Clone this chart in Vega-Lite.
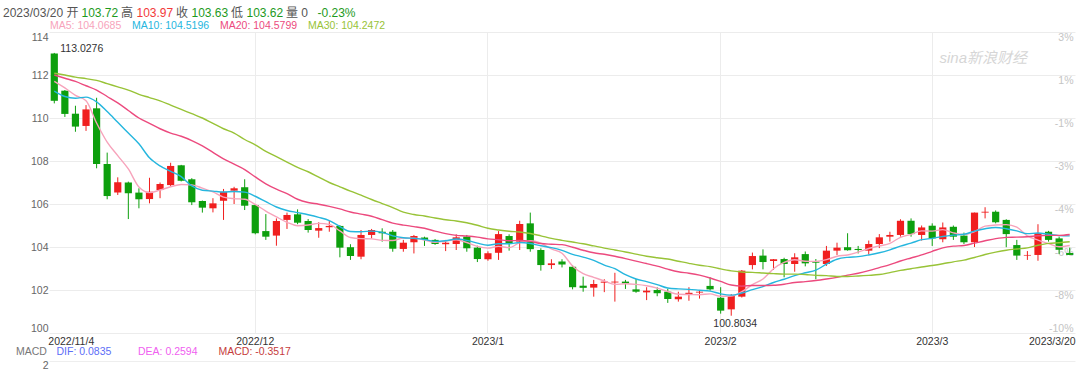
{
"$schema": "https://vega.github.io/schema/vega-lite/v6.json",
"width": 1026, "height": 301,
"autosize": {"type": "none"},
"padding": {"left": 49, "top": 32, "right": 5, "bottom": 41},
"background": "white",
"config": {"view": {"stroke": null}, "font": "Liberation Sans, 'Noto Sans CJK SC', sans-serif"},
"title": {"text": "sina新浪财经", "orient": "top", "anchor": "end", "frame": "group", "offset": 0, "dx": -48, "dy": 59, "fontSize": 15, "fontStyle": "italic", "fontWeight": "normal", "color": "#d6d6d6"},
"datasets": {
"k": [
{"d":"2022-11-04","o":113.0,"h":113.0276,"l":110.68,"c":110.8,"MA5":111.7,"MA10":111.25,"MA20":112.0,"MA30":112.08},
{"d":"2022-11-07","o":111.27,"h":111.3,"l":110.05,"c":110.19,"MA5":111.4,"MA10":111.0,"MA20":111.85,"MA30":112.0},
{"d":"2022-11-08","o":110.2,"h":110.57,"l":109.36,"c":109.6,"MA5":111.05,"MA10":110.92,"MA20":111.7,"MA30":111.9},
{"d":"2022-11-09","o":109.63,"h":110.6,"l":109.4,"c":110.4,"MA5":110.8,"MA10":110.97,"MA20":111.5,"MA30":111.83},
{"d":"2022-11-10","o":110.45,"h":110.94,"l":107.66,"c":107.86,"MA5":109.77,"MA10":110.75,"MA20":111.3,"MA30":111.75},
{"d":"2022-11-11","o":107.86,"h":108.39,"l":106.22,"c":106.37,"MA5":108.88,"MA10":110.3,"MA20":111.0,"MA30":111.6},
{"d":"2022-11-14","o":106.53,"h":107.24,"l":106.42,"c":107.01,"MA5":108.25,"MA10":109.8,"MA20":110.7,"MA30":111.45},
{"d":"2022-11-15","o":107.0,"h":107.04,"l":105.3,"c":106.5,"MA5":107.63,"MA10":109.3,"MA20":110.35,"MA30":111.3},
{"d":"2022-11-16","o":106.53,"h":106.73,"l":105.8,"c":106.22,"MA5":106.79,"MA10":108.8,"MA20":110.0,"MA30":111.1},
{"d":"2022-11-17","o":106.23,"h":107.22,"l":106.03,"c":106.57,"MA5":106.53,"MA10":108.15,"MA20":109.75,"MA30":110.95},
{"d":"2022-11-18","o":106.65,"h":107.0,"l":106.27,"c":106.93,"MA5":106.65,"MA10":107.77,"MA20":109.5,"MA30":110.8},
{"d":"2022-11-21","o":106.88,"h":107.92,"l":106.8,"c":107.77,"MA5":106.8,"MA10":107.52,"MA20":109.3,"MA30":110.6},
{"d":"2022-11-22","o":107.8,"h":107.82,"l":107.05,"c":107.08,"MA5":106.91,"MA10":107.27,"MA20":109.15,"MA30":110.4},
{"d":"2022-11-23","o":107.15,"h":107.2,"l":105.95,"c":106.08,"MA5":106.89,"MA10":106.84,"MA20":108.95,"MA30":110.2},
{"d":"2022-11-24","o":106.14,"h":106.16,"l":105.6,"c":105.83,"MA5":106.74,"MA10":106.64,"MA20":108.7,"MA30":110.0},
{"d":"2022-11-25","o":105.8,"h":106.27,"l":105.61,"c":106.03,"MA5":106.56,"MA10":106.6,"MA20":108.4,"MA30":109.75},
{"d":"2022-11-28","o":106.15,"h":106.7,"l":105.26,"c":106.57,"MA5":106.32,"MA10":106.56,"MA20":108.1,"MA30":109.5},
{"d":"2022-11-29","o":106.62,"h":106.8,"l":106.0,"c":106.73,"MA5":106.25,"MA10":106.58,"MA20":107.85,"MA30":109.3},
{"d":"2022-11-30","o":106.78,"h":107.15,"l":105.72,"c":105.92,"MA5":106.22,"MA10":106.55,"MA20":107.6,"MA30":109.0},
{"d":"2022-12-01","o":105.95,"h":106.0,"l":104.59,"c":104.64,"MA5":105.98,"MA10":106.36,"MA20":107.26,"MA30":108.75},
{"d":"2022-12-02","o":104.74,"h":105.53,"l":104.33,"c":104.48,"MA5":105.67,"MA10":106.11,"MA20":106.94,"MA30":108.45},
{"d":"2022-12-05","o":104.53,"h":105.33,"l":104.06,"c":105.21,"MA5":105.4,"MA10":105.86,"MA20":106.69,"MA30":108.2},
{"d":"2022-12-06","o":105.26,"h":105.6,"l":104.84,"c":105.49,"MA5":105.15,"MA10":105.7,"MA20":106.48,"MA30":107.95},
{"d":"2022-12-07","o":105.52,"h":105.75,"l":105.06,"c":105.13,"MA5":104.99,"MA10":105.6,"MA20":106.22,"MA30":107.7},
{"d":"2022-12-08","o":105.21,"h":105.3,"l":104.67,"c":104.79,"MA5":105.02,"MA10":105.5,"MA20":106.07,"MA30":107.5},
{"d":"2022-12-09","o":104.76,"h":105.15,"l":104.43,"c":104.88,"MA5":105.1,"MA10":105.38,"MA20":105.99,"MA30":107.25},
{"d":"2022-12-12","o":104.92,"h":105.21,"l":104.71,"c":104.98,"MA5":105.05,"MA10":105.23,"MA20":105.89,"MA30":107.0},
{"d":"2022-12-13","o":104.98,"h":105.02,"l":103.52,"c":103.97,"MA5":104.75,"MA10":104.95,"MA20":105.77,"MA30":106.8},
{"d":"2022-12-14","o":103.99,"h":104.13,"l":103.4,"c":103.58,"MA5":104.44,"MA10":104.72,"MA20":105.63,"MA30":106.6},
{"d":"2022-12-15","o":103.55,"h":104.79,"l":103.43,"c":104.56,"MA5":104.39,"MA10":104.71,"MA20":105.53,"MA30":106.41},
{"d":"2022-12-16","o":104.56,"h":104.84,"l":104.4,"c":104.79,"MA5":104.38,"MA10":104.74,"MA20":105.43,"MA30":106.21},
{"d":"2022-12-19","o":104.71,"h":104.87,"l":104.25,"c":104.64,"MA5":104.31,"MA10":104.68,"MA20":105.27,"MA30":106.02},
{"d":"2022-12-20","o":104.71,"h":104.79,"l":103.78,"c":103.92,"MA5":104.3,"MA10":104.52,"MA20":105.11,"MA30":105.83},
{"d":"2022-12-21","o":103.91,"h":104.33,"l":103.78,"c":104.2,"MA5":104.42,"MA10":104.43,"MA20":105.02,"MA30":105.62},
{"d":"2022-12-22","o":104.22,"h":104.56,"l":103.7,"c":104.51,"MA5":104.41,"MA10":104.4,"MA20":104.95,"MA30":105.51},
{"d":"2022-12-23","o":104.44,"h":104.48,"l":104.05,"c":104.33,"MA5":104.32,"MA10":104.35,"MA20":104.87,"MA30":105.44},
{"d":"2022-12-26","o":104.33,"h":104.37,"l":104.1,"c":104.14,"MA5":104.22,"MA10":104.26,"MA20":104.74,"MA30":105.35},
{"d":"2022-12-27","o":104.13,"h":104.33,"l":103.81,"c":104.2,"MA5":104.28,"MA10":104.29,"MA20":104.62,"MA30":105.27},
{"d":"2022-12-28","o":104.14,"h":104.59,"l":103.86,"c":104.45,"MA5":104.33,"MA10":104.37,"MA20":104.54,"MA30":105.21},
{"d":"2022-12-29","o":104.48,"h":104.56,"l":103.78,"c":103.94,"MA5":104.21,"MA10":104.31,"MA20":104.51,"MA30":105.13},
{"d":"2022-12-30","o":103.97,"h":104.06,"l":103.3,"c":103.44,"MA5":104.03,"MA10":104.18,"MA20":104.46,"MA30":105.01},
{"d":"2023-01-02","o":103.43,"h":103.8,"l":103.36,"c":103.71,"MA5":103.95,"MA10":104.08,"MA20":104.38,"MA30":104.87},
{"d":"2023-01-03","o":103.73,"h":104.74,"l":103.4,"c":104.6,"MA5":104.03,"MA10":104.15,"MA20":104.34,"MA30":104.79},
{"d":"2023-01-04","o":104.51,"h":104.59,"l":103.83,"c":104.17,"MA5":103.97,"MA10":104.15,"MA20":104.29,"MA30":104.73},
{"d":"2023-01-05","o":104.25,"h":105.22,"l":103.86,"c":105.07,"MA5":104.2,"MA10":104.21,"MA20":104.3,"MA30":104.7},
{"d":"2023-01-06","o":105.1,"h":105.6,"l":103.78,"c":103.9,"MA5":104.29,"MA10":104.16,"MA20":104.26,"MA30":104.63},
{"d":"2023-01-09","o":103.86,"h":103.94,"l":102.9,"c":103.16,"MA5":104.18,"MA10":104.06,"MA20":104.16,"MA30":104.52},
{"d":"2023-01-10","o":103.16,"h":103.43,"l":102.98,"c":103.24,"MA5":103.91,"MA10":103.97,"MA20":104.13,"MA30":104.4},
{"d":"2023-01-11","o":103.32,"h":103.43,"l":103.05,"c":103.19,"MA5":103.71,"MA10":103.84,"MA20":104.11,"MA30":104.31},
{"d":"2023-01-12","o":103.08,"h":103.16,"l":102.03,"c":102.13,"MA5":103.12,"MA10":103.66,"MA20":103.99,"MA30":104.23},
{"d":"2023-01-13","o":102.2,"h":102.62,"l":101.92,"c":102.1,"MA5":102.76,"MA10":103.53,"MA20":103.85,"MA30":104.15},
{"d":"2023-01-16","o":102.11,"h":102.47,"l":101.69,"c":102.28,"MA5":102.59,"MA10":103.38,"MA20":103.73,"MA30":104.05},
{"d":"2023-01-17","o":102.34,"h":102.5,"l":101.9,"c":102.39,"MA5":102.42,"MA10":103.16,"MA20":103.66,"MA30":103.95},
{"d":"2023-01-18","o":102.35,"h":102.8,"l":101.46,"c":102.39,"MA5":102.26,"MA10":102.99,"MA20":103.57,"MA30":103.86},
{"d":"2023-01-19","o":102.39,"h":102.47,"l":102.05,"c":102.31,"MA5":102.29,"MA10":102.71,"MA20":103.46,"MA30":103.77},
{"d":"2023-01-20","o":102.03,"h":102.51,"l":101.87,"c":101.92,"MA5":102.26,"MA10":102.51,"MA20":103.34,"MA30":103.67},
{"d":"2023-01-23","o":101.89,"h":102.13,"l":101.53,"c":101.97,"MA5":102.2,"MA10":102.39,"MA20":103.23,"MA30":103.57},
{"d":"2023-01-24","o":102.0,"h":102.13,"l":101.71,"c":101.85,"MA5":102.09,"MA10":102.25,"MA20":103.11,"MA30":103.5},
{"d":"2023-01-25","o":101.92,"h":102.06,"l":101.4,"c":101.58,"MA5":101.93,"MA10":102.09,"MA20":102.97,"MA30":103.44},
{"d":"2023-01-26","o":101.57,"h":101.92,"l":101.46,"c":101.69,"MA5":101.8,"MA10":102.05,"MA20":102.85,"MA30":103.34},
{"d":"2023-01-27","o":101.8,"h":102.13,"l":101.5,"c":101.87,"MA5":101.79,"MA10":102.03,"MA20":102.78,"MA30":103.24},
{"d":"2023-01-30","o":101.88,"h":102.0,"l":101.6,"c":101.92,"MA5":101.78,"MA10":101.99,"MA20":102.69,"MA30":103.15},
{"d":"2023-01-31","o":102.19,"h":102.59,"l":101.97,"c":102.03,"MA5":101.82,"MA10":101.95,"MA20":102.56,"MA30":103.09},
{"d":"2023-02-01","o":101.64,"h":102.13,"l":100.9,"c":101.04,"MA5":101.71,"MA10":101.82,"MA20":102.4,"MA30":102.98},
{"d":"2023-02-02","o":101.1,"h":101.81,"l":100.8034,"c":101.72,"MA5":101.72,"MA10":101.76,"MA20":102.23,"MA30":102.89},
{"d":"2023-02-03","o":101.69,"h":102.93,"l":101.65,"c":102.9,"MA5":101.92,"MA10":101.86,"MA20":102.18,"MA30":102.84},
{"d":"2023-02-06","o":103.16,"h":103.74,"l":102.96,"c":103.58,"MA5":102.25,"MA10":102.02,"MA20":102.21,"MA30":102.82},
{"d":"2023-02-07","o":103.6,"h":103.89,"l":102.96,"c":103.3,"MA5":102.51,"MA10":102.16,"MA20":102.21,"MA30":102.79},
{"d":"2023-02-08","o":103.35,"h":103.44,"l":102.93,"c":103.43,"MA5":102.99,"MA10":102.35,"MA20":102.22,"MA30":102.76},
{"d":"2023-02-09","o":103.44,"h":103.5,"l":102.59,"c":103.21,"MA5":103.28,"MA10":102.5,"MA20":102.27,"MA30":102.74},
{"d":"2023-02-10","o":103.21,"h":103.71,"l":102.85,"c":103.52,"MA5":103.41,"MA10":102.67,"MA20":102.35,"MA30":102.74},
{"d":"2023-02-13","o":103.67,"h":103.79,"l":103.1,"c":103.24,"MA5":103.34,"MA10":102.8,"MA20":102.39,"MA30":102.72},
{"d":"2023-02-14","o":103.32,"h":103.44,"l":102.5,"c":103.27,"MA5":103.33,"MA10":102.92,"MA20":102.44,"MA30":102.68},
{"d":"2023-02-15","o":103.21,"h":104.05,"l":103.12,"c":103.83,"MA5":103.41,"MA10":103.2,"MA20":102.51,"MA30":102.67},
{"d":"2023-02-16","o":103.83,"h":104.2,"l":103.63,"c":103.97,"MA5":103.57,"MA10":103.43,"MA20":102.59,"MA30":102.63},
{"d":"2023-02-17","o":103.99,"h":104.64,"l":103.83,"c":103.85,"MA5":103.63,"MA10":103.52,"MA20":102.69,"MA30":102.63},
{"d":"2023-02-20","o":103.91,"h":104.05,"l":103.7,"c":103.86,"MA5":103.76,"MA10":103.55,"MA20":102.78,"MA30":102.65},
{"d":"2023-02-21","o":103.83,"h":104.3,"l":103.65,"c":104.14,"MA5":103.93,"MA10":103.63,"MA20":102.9,"MA30":102.68},
{"d":"2023-02-22","o":104.14,"h":104.6,"l":103.95,"c":104.45,"MA5":104.05,"MA10":103.73,"MA20":103.04,"MA30":102.72},
{"d":"2023-02-23","o":104.48,"h":104.71,"l":104.25,"c":104.56,"MA5":104.17,"MA10":103.87,"MA20":103.18,"MA30":102.81},
{"d":"2023-02-24","o":104.56,"h":105.29,"l":104.48,"c":105.22,"MA5":104.45,"MA10":104.04,"MA20":103.35,"MA30":102.91},
{"d":"2023-02-27","o":105.22,"h":105.33,"l":104.48,"c":104.6,"MA5":104.59,"MA10":104.18,"MA20":103.49,"MA30":102.99},
{"d":"2023-02-28","o":104.56,"h":105.0,"l":104.3,"c":104.91,"MA5":104.75,"MA10":104.34,"MA20":103.63,"MA30":103.07},
{"d":"2023-03-01","o":104.99,"h":105.1,"l":104.05,"c":104.4,"MA5":104.74,"MA10":104.4,"MA20":103.8,"MA30":103.14},
{"d":"2023-03-02","o":104.36,"h":105.14,"l":104.22,"c":104.91,"MA5":104.81,"MA10":104.49,"MA20":103.96,"MA30":103.22},
{"d":"2023-03-03","o":104.94,"h":105.0,"l":104.33,"c":104.48,"MA5":104.66,"MA10":104.55,"MA20":104.04,"MA30":103.31},
{"d":"2023-03-06","o":104.53,"h":104.67,"l":104.14,"c":104.22,"MA5":104.58,"MA10":104.59,"MA20":104.07,"MA30":103.39},
{"d":"2023-03-07","o":104.22,"h":105.6,"l":104.0,"c":105.6,"MA5":104.72,"MA10":104.74,"MA20":104.18,"MA30":103.51},
{"d":"2023-03-08","o":105.6,"h":105.85,"l":105.33,"c":105.64,"MA5":104.97,"MA10":104.85,"MA20":104.29,"MA30":103.65},
{"d":"2023-03-09","o":105.64,"h":105.7,"l":105.1,"c":105.15,"MA5":105.02,"MA10":104.91,"MA20":104.39,"MA30":103.76},
{"d":"2023-03-10","o":105.26,"h":105.29,"l":103.99,"c":104.6,"MA5":105.04,"MA10":104.85,"MA20":104.45,"MA30":103.85},
{"d":"2023-03-13","o":104.09,"h":104.33,"l":103.4,"c":103.6,"MA5":104.92,"MA10":104.75,"MA20":104.46,"MA30":103.91},
{"d":"2023-03-14","o":103.6,"h":103.81,"l":103.4,"c":103.63,"MA5":104.52,"MA10":104.62,"MA20":104.48,"MA30":103.96},
{"d":"2023-03-15","o":103.63,"h":105.06,"l":103.36,"c":104.64,"MA5":104.32,"MA10":104.65,"MA20":104.52,"MA30":104.08},
{"d":"2023-03-16","o":104.71,"h":104.75,"l":104.25,"c":104.33,"MA5":104.16,"MA10":104.59,"MA20":104.54,"MA30":104.17},
{"d":"2023-03-17","o":104.4,"h":104.48,"l":103.67,"c":103.87,"MA5":104.01,"MA10":104.53,"MA20":104.54,"MA30":104.2},
{"d":"2023-03-20","o":103.72,"h":103.97,"l":103.62,"c":103.63,"MA5":104.0685,"MA10":104.5196,"MA20":104.5799,"MA30":104.2472}
],
"hdr": [{"s":"2023/03/20 开"},{"s":"103.72"},{"s":"高"},{"s":"103.97"},{"s":"收"},{"s":"103.63"},{"s":"低"},{"s":"103.62"},{"s":"量 0"},{"s":"-0.23%"}],
"macd": [{"s":"MACD"},{"s":"DIF: 0.0835","v":0.0835},{"s":"DEA: 0.2594","v":0.2594},{"s":"MACD: -0.3517","v":-0.3517}]
},
"layer": [
{
"data": {"name": "k"},
"mark": {"type": "rule", "strokeWidth": 1},
"encoding": {
"x": {"field": "d", "type": "ordinal", "sort": null,
"scale": {"type": "band", "paddingInner": 0, "paddingOuter": 0},
"axis": {"title": null, "values": ["2022-11-04","2022-12-01","2023-01-02","2023-02-01","2023-03-01","2023-03-20"],
"labelExpr": "datum.value == '2022-11-04' ? '2022/11/4' : datum.value == '2023-03-20' ? '2023/3/20' : slice(datum.value,0,4) + '/' + parseInt(slice(datum.value,5,7))",
"labelAngle": 0, "labelFlush": 12, "labelFlushOffset": 6, "ticks": false, "domain": false, "labelPadding": 3,
"labelColor": "#333333", "labelFontSize": 10.5,
"grid": true, "gridColor": "#ececec",
"gridOpacity": {"condition": {"test": "datum.value == '2022-11-04' || datum.value == '2023-03-20'", "value": 0}, "value": 1}}},
"y": {"field": "l", "type": "quantitative", "scale": {"domain": [100, 114], "zero": false, "nice": false},
"axis": {"title": null, "values": [100,102,104,106,108,110,112,114], "grid": true, "gridColor": "#ececec", "domain": false, "ticks": false, "labelPadding": 1, "labelFlush": true, "labelColor": "#666666", "labelFontSize": 10.5}},
"y2": {"field": "h"},
"color": {"condition": {"test": "datum.c >= datum.o", "value": "#f01f1f"}, "value": "#0d9f0d"}
}
},
{
"data": {"name": "k"},
"mark": {"type": "bar", "width": {"band": 0.68}},
"encoding": {
"x": {"field": "d", "type": "ordinal", "sort": null},
"y": {"field": "o", "type": "quantitative", "scale": {"domain": [100, 114], "zero": false, "nice": false},
"axis": {"orient": "right", "title": null, "values": [100,102,104,106,108,110,112,114],
"labelExpr": "round((datum.value/110.85-1)*100) + '%'", "grid": false, "domain": false, "ticks": false,
"labelAlign": "right", "labelPadding": -2, "labelFlush": false,
"labelBaseline": {"condition": {"test": "datum.value <= 100", "value": "bottom"}, "value": "top"},
"labelColor": "#c4c4c4", "labelFontSize": 10.5}},
"y2": {"field": "c"},
"color": {"condition": {"test": "datum.c >= datum.o", "value": "#f01f1f"}, "value": "#0d9f0d"}
}
},
{
"data": {"name": "k"},
"transform": [{"fold": ["MA5","MA10","MA20","MA30"], "as": ["ma","v"]}],
"mark": {"type": "line", "strokeWidth": 1.4, "interpolate": "monotone"},
"encoding": {
"x": {"field": "d", "type": "ordinal", "sort": null},
"y": {"field": "v", "type": "quantitative", "scale": {"domain": [100, 114], "zero": false, "nice": false}, "axis": null},
"color": {"field": "ma", "type": "nominal",
"scale": {"domain": ["MA5","MA10","MA20","MA30"], "range": ["#f7a3bb","#25b6de","#ec4a7e","#98c337"]},
"legend": {"orient": "none", "legendX": -9.5, "legendY": -11.25, "direction": "horizontal", "columns": 4, "title": null, "gridAlign": "none",
"symbolType": "circle", "symbolSize": 0, "symbolOpacity": 0, "symbolStrokeWidth": 0, "labelOffset": 0, "columnPadding": 0, "padding": 0,
"labelFontSize": 10.5, "labelLimit": 0,
"labelExpr": "datum.label == 'MA5' ? 'MA5: 104.0685' : datum.label == 'MA10' ? 'MA10: 104.5196' : datum.label == 'MA20' ? 'MA20: 104.5799' : 'MA30: 104.2472'",
"labelColor": {"expr": "scale('color', datum.value)"}}}
}
},
{
"data": {"values": [{"d":"2022-11-04","v":113.0276}]},
"mark": {"type": "text", "align": "left", "baseline": "alphabetic", "dx": 6, "dy": -1, "fontSize": 10.5, "color": "#333333"},
"encoding": {
"x": {"field": "d", "type": "ordinal", "sort": null},
"y": {"field": "v", "type": "quantitative", "scale": {"domain": [100, 114], "zero": false, "nice": false}, "axis": null},
"text": {"field": "v", "type": "quantitative", "format": ".4f"}
}
},
{
"data": {"values": [{"d":"2023-02-02","v":100.8034}]},
"mark": {"type": "text", "align": "center", "baseline": "top", "dx": 4, "dy": 3, "fontSize": 10.5, "color": "#333333"},
"encoding": {
"x": {"field": "d", "type": "ordinal", "sort": null},
"y": {"field": "v", "type": "quantitative", "scale": {"domain": [100, 114], "zero": false, "nice": false}, "axis": null},
"text": {"field": "v", "type": "quantitative", "format": ".4f"}
}
},
{
"data": {"name": "hdr"},
"mark": {"type": "point", "opacity": 0},
"encoding": {
"fill": {"field": "s", "type": "nominal",
"scale": {"domain": ["2023/03/20 开","103.72","高","103.97","收","103.63","低","103.62","量 0","-0.23%"],
"range": ["#555555","#1d9a1d","#555555","#f23a3a","#555555","#1d9a1d","#555555","#1d9a1d","#555555","#1d9a1d"]},
"legend": {"orient": "none", "legendX": -58, "legendY": -25, "direction": "horizontal", "columns": 10, "title": null, "gridAlign": "none",
"symbolType": "circle", "symbolSize": 0, "symbolOpacity": 0, "symbolStrokeWidth": 0, "labelOffset": 0, "columnPadding": -9.5, "padding": 0,
"labelFontSize": 12, "labelLimit": 0,
"labelExpr": "datum.label == '量 0' ? '量 0  \u200b' : datum.label",
"labelColor": {"expr": "scale('fill', datum.value)"}}}
}
},
{
"data": {"name": "macd"},
"mark": {"type": "point", "opacity": 0},
"encoding": {
"y": {"field": "v", "type": "quantitative", "scale": {"domain": [-2, 2], "range": [389, 329], "zero": false, "nice": false},
"axis": {"title": null, "orient": "left", "values": [2], "grid": true, "gridColor": "#eeeeee", "domain": false, "ticks": false, "labelPadding": 1, "labelOffset": 4, "labelColor": "#666666", "labelFontSize": 10.5}},
"stroke": {"field": "s", "type": "nominal",
"scale": {"domain": ["MACD","DIF: 0.0835","DEA: 0.2594","MACD: -0.3517"], "range": ["#777777","#5d6ef7","#f060f0","#c63c3c"]},
"legend": {"orient": "none", "legendX": -43.5, "legendY": 314.75, "direction": "horizontal", "columns": 4, "title": null, "gridAlign": "none",
"symbolType": "circle", "symbolSize": 0, "symbolOpacity": 0, "symbolStrokeWidth": 0, "labelOffset": 0, "columnPadding": -1.5, "padding": 0,
"labelFontSize": 10.5, "labelLimit": 0,
"labelExpr": "datum.label == 'DIF: 0.0835' ? 'DIF: 0.0835      \u200b' : datum.label == 'DEA: 0.2594' ? 'DEA: 0.2594    \u200b' : datum.label",
"labelColor": {"expr": "scale('stroke', datum.value)"}}}
}
}
],
"resolve": {"scale": {"y": "independent"}, "axis": {"y": "independent"}}
}
